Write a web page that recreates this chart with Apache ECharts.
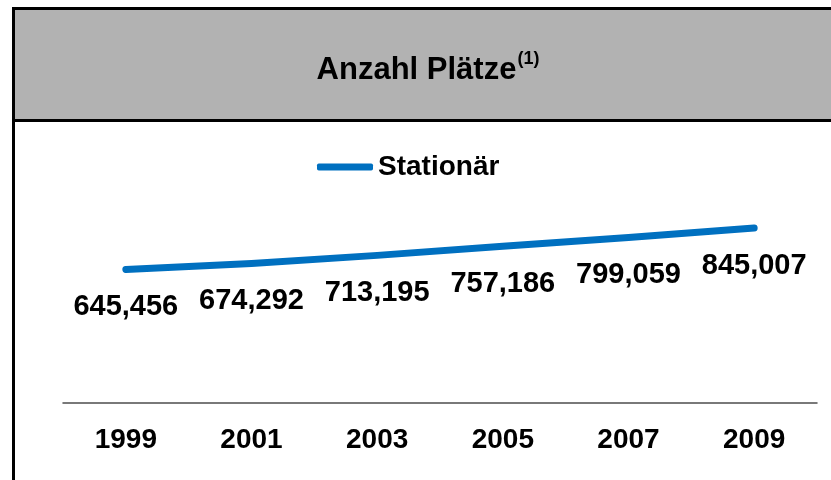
<!DOCTYPE html>
<html>
<head>
<meta charset="utf-8">
<script src="https://cdn.jsdelivr.net/npm/echarts@6/dist/echarts.min.js"></script>
<style>
html,body{margin:0;padding:0;background:#fff;}
#chart{width:831px;height:480px;}
</style>
</head>
<body>
<div id="chart"></div>
<script>
const categories = ['1999', '2001', '2003', '2005', '2007', '2009'];
const stationaer = [645456, 674292, 713195, 757186, 799059, 845007];
const seriesName = 'Stationär';
const titleMain = 'Anzahl Plätze';
const titleSup = '(1)';

const FONT = 'Liberation Sans, Arial, sans-serif';
const chart = echarts.init(document.getElementById('chart'), null, {renderer: 'canvas'});

function fmt(v) {
  return String(v).replace(/\B(?=(\d{3})+(?!\d))/g, ',');
}

chart.setOption({
  animation: false,
  backgroundColor: '#ffffff',
  graphic: [
    {type: 'rect', z: -10, shape: {x: 13, y: 8, width: 830, height: 112}, style: {fill: '#B2B2B2'}},
    {type: 'line', z: 10, shape: {x1: 12, y1: 8.5, x2: 831, y2: 8.5}, style: {stroke: '#000', lineWidth: 3}},
    {type: 'line', z: 10, shape: {x1: 12, y1: 120.5, x2: 831, y2: 120.5}, style: {stroke: '#000', lineWidth: 3}},
    {type: 'line', z: 10, shape: {x1: 13.5, y1: 7, x2: 13.5, y2: 480}, style: {stroke: '#000', lineWidth: 3}},
    {
      type: 'text', z: 11, x: 428, y: 67,
      style: {
        text: '{a|' + titleMain + '}{s|' + titleSup + '}',
        align: 'center', verticalAlign: 'middle',
        rich: {
          a: {fontFamily: FONT, fontWeight: 'bold', fontSize: 31, lineHeight: 37, fill: '#000', verticalAlign: 'bottom'},
          s: {fontFamily: FONT, fontWeight: 'bold', fontSize: 18, lineHeight: 18, fill: '#000', verticalAlign: 'top', padding: [2, 0, 0, 1]}
        }
      }
    }
  ],
  legend: {
    left: 317, top: 153, padding: 0,
    itemWidth: 56, itemHeight: 7,
    icon: 'roundRect',
    data: [{name: seriesName, itemStyle: {color: '#0070C0'}}],
    textStyle: {fontFamily: FONT, fontWeight: 'bold', fontSize: 28, color: '#000'}
  },
  grid: {left: 63, right: 14, top: 196, bottom: 77, containLabel: false},
  xAxis: {
    type: 'category',
    data: categories,
    boundaryGap: true,
    axisLine: {show: true, lineStyle: {color: '#4d4d4d', width: 1.5}},
    axisTick: {show: false},
    splitLine: {show: false},
    axisLabel: {interval: 0, margin: 23, fontFamily: FONT, fontWeight: 'bold', fontSize: 28, color: '#000'}
  },
  yAxis: {
    type: 'value', min: 0, max: 1000000, show: false,
    splitLine: {show: false}
  },
  series: [{
    name: seriesName,
    type: 'line',
    data: stationaer,
    symbol: 'circle',
    symbolSize: 0,
    showSymbol: true,
    lineStyle: {color: '#0070C0', width: 7, cap: 'round', join: 'round'},
    itemStyle: {color: '#0070C0'},
    labelLayout: {hideOverlap: false},
    label: {
      show: true, position: 'bottom', distance: 23,
      formatter: p => fmt(p.value),
      fontFamily: FONT, fontWeight: 'bold', fontSize: 29, color: '#000'
    }
  }]
});
</script>
</body>
</html>
